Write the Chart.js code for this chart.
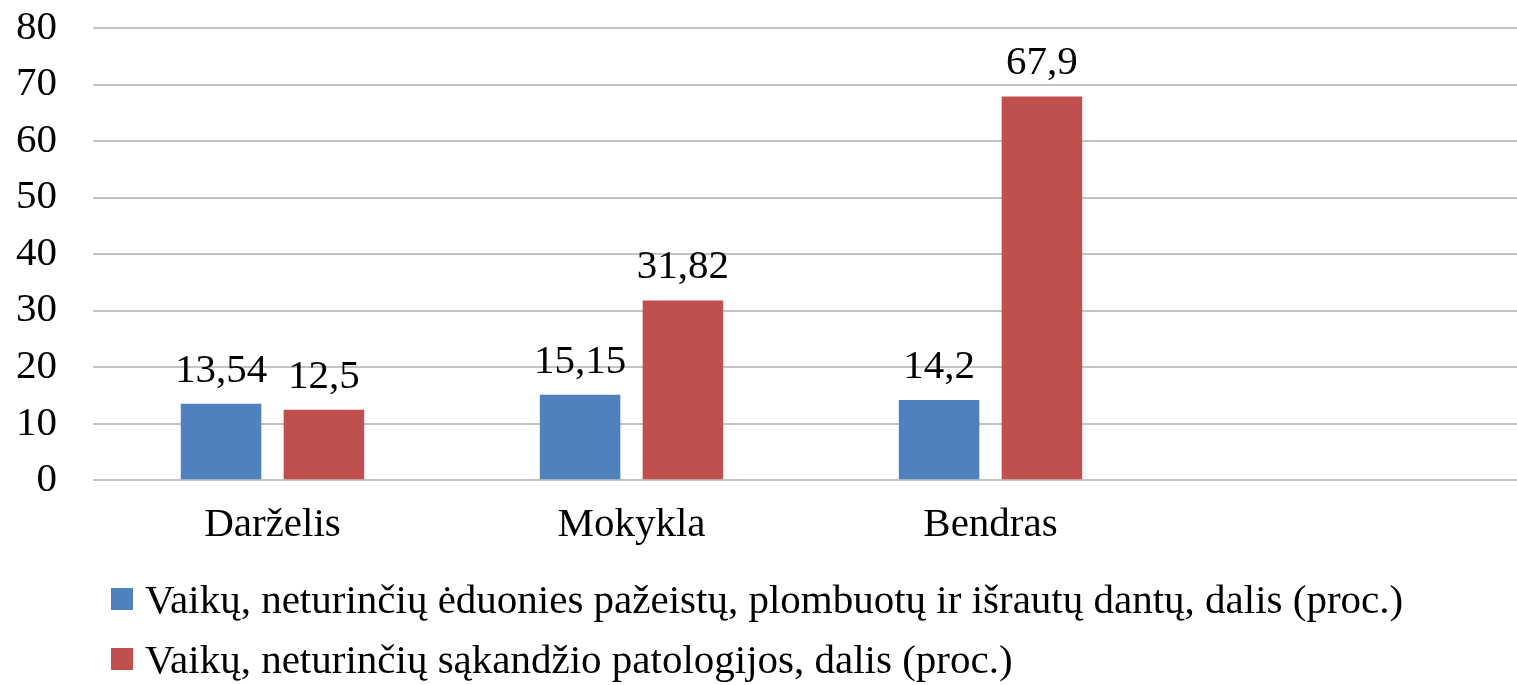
<!DOCTYPE html>
<html>
<head>
<meta charset="utf-8">
<script src="https://cdn.jsdelivr.net/npm/chart.js@4/dist/chart.umd.min.js"></script>
<style>
  html, body { margin: 0; padding: 0; background: #fff; overflow: hidden; }
  #wrap { position: relative; width: 1517px; height: 685px; overflow: hidden; }
  #graph { position: absolute; left: 0; top: 0; }
  #legende { position: absolute; left: 111px; top: 569px; font-family: "Liberation Serif", "Times New Roman", serif; font-size: 41px; line-height: 60px; color: #000; white-space: nowrap; }
  #legende .boite { display: inline-block; width: 22px; height: 22px; vertical-align: 3px; margin-right: 12px; }
</style>
</head>
<body>
<div id="wrap">
  <canvas id="graph" width="1532" height="685"></canvas>
  <div id="legende"></div>
</div>
<script>
const categories = ['Darželis', 'Mokykla', 'Bendras', ''];
const serieDantys = [13.54, 15.15, 14.2, null];
const serieSakandis = [12.5, 31.82, 67.9, null];
const nomsSeries = [
    'Vaikų, neturinčių ėduonies pažeistų, plombuotų ir išrautų dantų, dalis (proc.)',
    'Vaikų, neturinčių sąkandžio patologijos, dalis (proc.)'
];
const couleurs = ['#4F81BD', '#C0504D'];
const yMin = 0, yMax = 80, yPas = 10;

const police = '"Liberation Serif", "Times New Roman", serif';

// étiquettes de valeur au-dessus des barres
const etiquettes = {
    id: 'etiquettes',
    afterDatasetsDraw(chart) {
        const ctx = chart.ctx;
        ctx.save();
        ctx.font = '41px ' + police;
        ctx.fillStyle = '#000';
        ctx.textAlign = 'center';
        ctx.textBaseline = 'alphabetic';
        chart.data.datasets.forEach((ds, i) => {
            chart.getDatasetMeta(i).data.forEach((barre, j) => {
                const v = ds.data[j];
                if (v === null || v === undefined) return;
                ctx.fillText(String(v).replace('.', ','), barre.x, barre.y - 22);
            });
        });
        ctx.restore();
    }
};

new Chart(document.getElementById('graph').getContext('2d'), {
    type: 'bar',
    data: {
        labels: categories,
        datasets: [
            { label: nomsSeries[0], data: serieDantys, backgroundColor: couleurs[0] },
            { label: nomsSeries[1], data: serieSakandis, backgroundColor: couleurs[1] }
        ]
    },
    options: {
        responsive: false,
        animation: false,
        categoryPercentage: 0.573,
        barPercentage: 0.783,
        layout: { padding: { left: 16, right: 3, top: 28, bottom: 114.5 } },
        plugins: {
            legend: { display: false },
            tooltip: { enabled: false }
        },
        scales: {
            x: {
                grid: { display: false, drawTicks: false },
                border: { display: false },
                ticks: { color: '#000', font: { family: police, size: 41 }, padding: 20.5 }
            },
            y: {
                min: yMin,
                max: yMax,
                afterFit: (echelle) => { echelle.width = 77; },
                // petits traits invisibles pour écarter les libellés de la grille
                grid: { color: '#c4c4c4', lineWidth: 2, drawTicks: true, tickLength: 36, tickColor: 'rgba(0,0,0,0)' },
                border: { display: false },
                ticks: { stepSize: yPas, autoSkip: false, color: '#000', font: { family: police, size: 41 }, padding: 0 }
            }
        }
    },
    plugins: [etiquettes]
});

// légende en HTML sous le graphique
const legende = document.getElementById('legende');
nomsSeries.forEach((nom, i) => {
    const ligne = document.createElement('div');
    const boite = document.createElement('span');
    boite.className = 'boite';
    boite.style.background = couleurs[i];
    ligne.appendChild(boite);
    ligne.appendChild(document.createTextNode(nom));
    legende.appendChild(ligne);
});
</script>
</body>
</html>
